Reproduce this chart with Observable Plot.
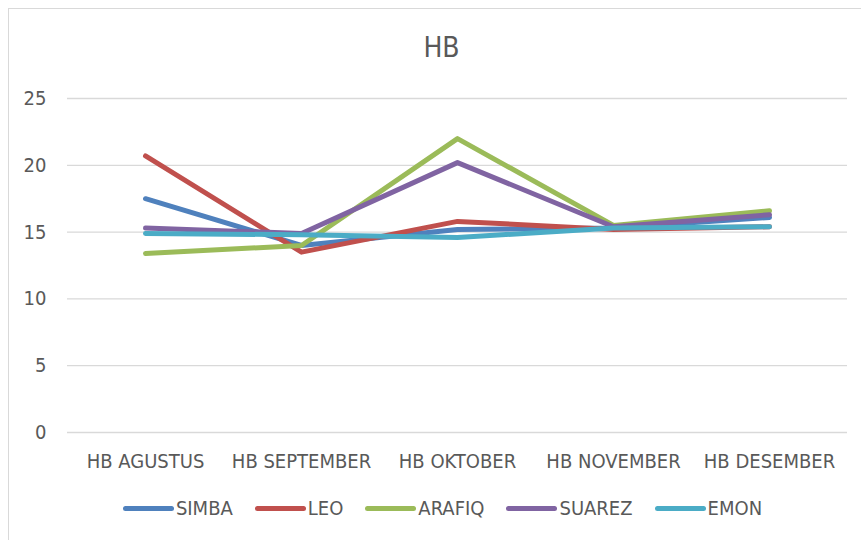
<!DOCTYPE html>
<html>
<head>
<meta charset="utf-8">
<script src="https://cdn.jsdelivr.net/npm/d3@7"></script>
<script src="https://cdn.jsdelivr.net/npm/@observablehq/plot@0.6"></script>
<style>
  html, body { margin: 0; padding: 0; background: #fff; }
  #wrap { position: relative; width: 861px; height: 540px; overflow: hidden;
          font-family: "Liberation Sans Narrow", "DejaVu Sans Condensed", "Liberation Sans", sans-serif; color: #595959; }
  #frame { position: absolute; left: 8px; top: 8px; width: 900px; height: 600px; border: 1px solid #d9d9d9; box-sizing: border-box; }
  #title { position: relative; height: 70px; text-align: center; font-size: 28px; line-height: 28px; padding-top: 34px; padding-left: 22px; box-sizing: border-box; }
  #chart { position: relative; height: 415px; }
  #legend { position: relative; display: flex; justify-content: center; align-items: center; height: 46px; font-size: 20px; padding-left: 24px; box-sizing: border-box; }
  .item { display: flex; align-items: center; margin: 0 11px; }
  .swatch { width: 51px; height: 5px; border-radius: 3px; margin-right: 2px; }
</style>
</head>
<body>
<div id="wrap">
  <div id="frame"></div>
  <div id="title">HB</div>
  <div id="chart"></div>
  <div id="legend"></div>
</div>
<script>
const categories = ["HB AGUSTUS", "HB SEPTEMBER", "HB OKTOBER", "HB NOVEMBER", "HB DESEMBER"];
const seriesNames = ["SIMBA", "LEO", "ARAFIQ", "SUAREZ", "EMON"];
const seriesColors = ["#4F81BD", "#C0504D", "#9BBB59", "#8064A2", "#4BACC6"];
const SIMBA  = [17.5, 14.0, 15.2, 15.3, 16.1];
const LEO    = [20.7, 13.5, 15.8, 15.2, 15.4];
const ARAFIQ = [13.4, 14.0, 22.0, 15.5, 16.6];
const SUAREZ = [15.3, 14.9, 20.2, 15.4, 16.3];
const EMON   = [14.9, 14.8, 14.6, 15.3, 15.4];
const yTicks = [0, 5, 10, 15, 20, 25];

const seriesValues = [SIMBA, LEO, ARAFIQ, SUAREZ, EMON];
const rows = [];
seriesNames.forEach((name, i) => {
  categories.forEach((c, j) => rows.push({series: name, month: c, value: seriesValues[i][j]}));
});

const chart = Plot.plot({
  width: 861,
  height: 415,
  marginTop: 28,
  marginBottom: 53,
  marginLeft: 67,
  marginRight: 14,
  style: { fontFamily: '"Liberation Sans Narrow", "DejaVu Sans Condensed", "Liberation Sans", sans-serif', fontSize: "20px", color: "#595959", background: "transparent" },
  x: { type: "point", domain: categories, padding: 0.5, label: null },
  y: { domain: [0, 25], ticks: yTicks, label: null },
  color: { domain: seriesNames, range: seriesColors },
  marks: [
    Plot.gridY(yTicks, { stroke: "#d9d9d9", strokeOpacity: 1, strokeWidth: 1.3 }),
    Plot.axisY(yTicks, { tickSize: 0, tickPadding: 21, fill: "#595959", label: null, fontSize: 20 }),
    Plot.axisX({ tickSize: 0, tickPadding: 21, fill: "#595959", label: null, fontSize: 20 }),
    Plot.line(rows, { x: "month", y: "value", z: "series", stroke: "series", strokeWidth: 5, strokeLinecap: "round", strokeLinejoin: "round" })
  ]
});
document.getElementById("chart").appendChild(chart);

const legend = document.getElementById("legend");
seriesNames.forEach((name, i) => {
  const item = document.createElement("div");
  item.className = "item";
  const sw = document.createElement("div");
  sw.className = "swatch";
  sw.style.background = seriesColors[i];
  const label = document.createElement("span");
  label.textContent = name;
  item.appendChild(sw);
  item.appendChild(label);
  legend.appendChild(item);
});
</script>
</body>
</html>
